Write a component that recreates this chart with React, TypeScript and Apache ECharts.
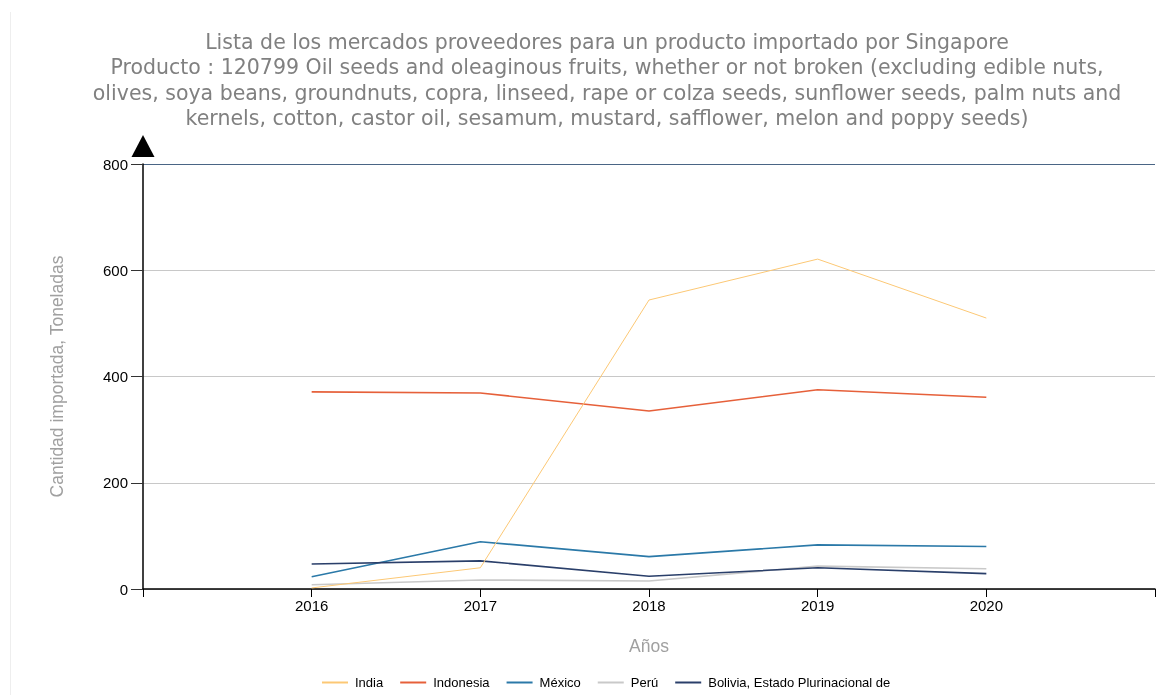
import React, { useEffect, useRef } from "react";
import * as echarts from "echarts";

const years = [2016, 2017, 2018, 2019, 2020];
const seriesNames = ["India", "Indonesia", "México", "Perú", "Bolivia, Estado Plurinacional de"];
const india = [2, 40, 544, 621, 510];
const indonesia = [371, 369, 335, 375, 361];
const mexico = [23, 89, 61, 83, 80];
const peru = [8, 17, 15, 43, 38];
const bolivia = [47, 53, 24, 40, 29];
const yTicks = [0, 200, 400, 600, 800];
const titleLines = [
  "Lista de los mercados proveedores para un producto importado por Singapore",
  "Producto : 120799 Oil seeds and oleaginous fruits, whether or not broken (excluding edible nuts,",
  "olives, soya beans, groundnuts, copra, linseed, rape or colza seeds, sunflower seeds, palm nuts and",
  "kernels, cotton, castor oil, sesamum, mustard, safflower, melon and poppy seeds)",
];

const colors = ["#fcc875", "#e6603a", "#2b79a8", "#c9c9c9", "#2a3f6a"];
const widths = [1, 1.6, 1.6, 1.6, 1.6];

export default function App() {
  const ref = useRef<HTMLDivElement>(null);
  useEffect(() => {
    const chart = echarts.init(ref.current!, null, { renderer: "svg" });
    const values = [india, indonesia, mexico, peru, bolivia];
    chart.setOption({
      animation: false,
      title: {
        text: titleLines.join("\n"),
        left: 602,
        top: 24,
        textAlign: "center",
        textStyle: {
          fontFamily: "DejaVu Sans",
          fontSize: 20.5,
          fontWeight: "normal",
          color: "#808080",
          lineHeight: 25.5,
        },
      },
      graphic: [
        {
          type: "line",
          shape: { x1: 10.5, y1: 12, x2: 10.5, y2: 695 },
          style: { stroke: "#eeeeee", lineWidth: 1 },
        },
      ],
      legend: {
        bottom: 1,
        left: 317,
        icon: "rect",
        itemWidth: 26,
        itemHeight: 2,
        itemGap: 17,
        textStyle: { fontFamily: "Liberation Sans", fontSize: 13, color: "#000", padding: [0, 0, 0, 2] },
        data: seriesNames,
      },
      grid: { left: 143, right: -3, top: 164, bottom: 106 },
      xAxis: {
        type: "value",
        min: 2015,
        max: 2021,
        interval: 1,
        name: "Años",
        nameLocation: "middle",
        nameGap: 48,
        nameTextStyle: { fontFamily: "Liberation Sans", fontSize: 17.5, color: "#a0a0a0" },
        splitLine: { show: false },
        axisLine: { lineStyle: { color: "#000", width: 1.5 } },
        axisTick: { show: true, length: 8, lineStyle: { color: "#000" } },
        axisLabel: {
          fontFamily: "Liberation Sans",
          fontSize: 15,
          color: "#000",
          margin: 9,
          formatter: (v: number) => (years.indexOf(v) >= 0 ? String(v) : ""),
        },
      },
      yAxis: {
        type: "value",
        min: 0,
        max: 800,
        interval: 200,
        name: "Cantidad importada, Toneladas",
        nameLocation: "middle",
        nameGap: 77,
        nameTextStyle: { fontFamily: "Liberation Sans", fontSize: 17.5, color: "#a0a0a0" },
        axisLine: {
          show: true,
          symbol: ["none", "triangle"],
          symbolSize: [23, 22],
          symbolOffset: [0, 18],
          lineStyle: { color: "#000", width: 1.5 },
        },
        axisTick: { show: true, length: 12, lineStyle: { color: "#333" } },
        axisLabel: {
          fontFamily: "Liberation Sans",
          fontSize: 15,
          color: "#000",
          margin: 15,
          formatter: (v: number) => (yTicks.indexOf(v) >= 0 ? String(v) : ""),
        },
        splitLine: {
          show: true,
          lineStyle: {
            color: ["#c8c8c8", "#c8c8c8", "#c8c8c8", "#c8c8c8", "#4a6585"],
            width: 1,
          },
        },
      },
      series: seriesNames.map((name, i) => ({
        name,
        type: "line",
        symbol: "none",
        data: years.map((y, j) => [y, values[i][j]]),
        lineStyle: { color: colors[i], width: widths[i] },
        itemStyle: { color: colors[i] },
        z: i === 0 ? 3 : 2,
      })),
    });
    return () => chart.dispose();
  }, []);
  return (
    <div
      ref={ref}
      style={{ position: "fixed", left: 0, top: 0, width: 1158, height: 695 }}
    />
  );
}
